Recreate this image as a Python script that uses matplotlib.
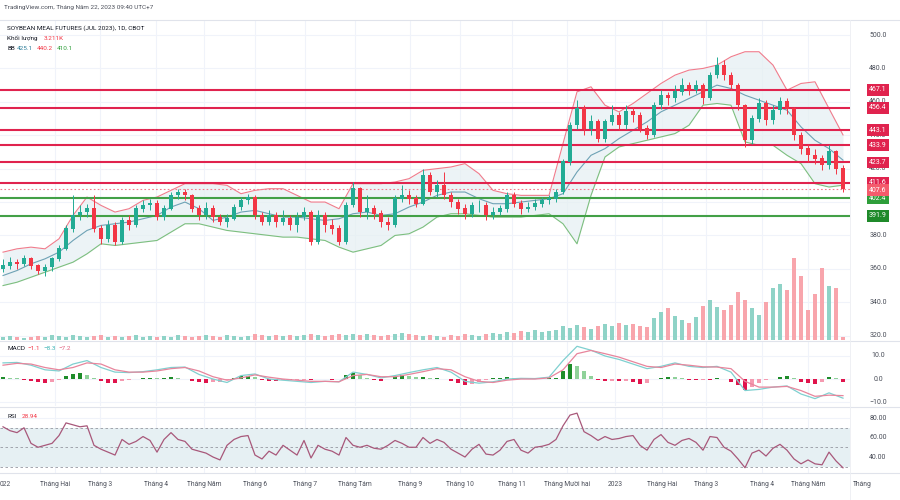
import numpy as np
import matplotlib.pyplot as plt

plt.rcParams['font.family'] = ['Roboto', 'DejaVu Sans']

# one candle ~ 2-3 trading days, Jan 2022 .. 22 May 2023
first_open = 360
close = [362, 364, 363, 366, 362, 359, 361, 366, 372, 384,
         392, 394, 396, 384, 378, 386, 376, 389, 386, 396,
         398, 399, 391, 396, 404, 406, 404, 396, 392, 396,
         391, 388, 390, 397, 401, 403, 392, 388, 392, 388,
         390, 386, 391, 394, 376, 392, 386, 384, 376, 398,
         408, 394, 396, 393, 388, 386, 402, 404, 402, 399,
         416, 406, 410, 404, 400, 396, 393, 398, 398, 392,
         394, 396, 404, 399, 396, 397, 399, 401, 402, 406,
         424, 446, 456, 444, 448, 438, 448, 452, 446, 454,
         452, 444, 440, 458, 464, 462, 466, 470, 467, 470,
         462, 476, 482, 476, 470, 458, 437, 450, 459, 449,
         455, 460, 456, 440, 432, 428, 426, 422, 430, 420, 407.6]
high = [366, 367, 366, 368, 367, 363, 363, 367, 374, 386,
        404, 398, 399, 404, 386, 389, 388, 391, 392, 398,
        401, 402, 401, 398, 406, 408, 408, 405, 398, 400,
        398, 393, 393, 399, 403, 405, 404, 394, 395, 394,
        395, 392, 394, 397, 395, 395, 394, 390, 386, 400,
        412, 409, 404, 398, 395, 391, 404, 410, 407, 404,
        420, 418, 413, 418, 406, 402, 399, 400, 401, 400,
        397, 398, 406, 406, 401, 400, 402, 403, 404, 408,
        426, 448, 461, 458, 452, 450, 450, 458, 454, 458,
        457, 454, 446, 460, 467, 466, 470, 474, 472, 473,
        471, 478, 487, 485, 478, 471, 459, 452, 462, 461,
        458, 463, 462, 457, 442, 435, 432, 428, 434, 431, 422]
low = [358, 360, 360, 362, 360, 357, 356, 359, 365, 371,
       382, 389, 391, 382, 375, 376, 374, 375, 383, 385,
       394, 395, 389, 389, 395, 402, 401, 394, 389, 390,
       388, 386, 385, 389, 395, 399, 390, 386, 386, 385,
       386, 383, 382, 389, 374, 375, 382, 381, 374, 375,
       397, 391, 390, 390, 385, 383, 385, 400, 399, 397,
       398, 404, 403, 402, 397, 393, 390, 391, 394, 389,
       390, 392, 394, 397, 393, 394, 395, 397, 399, 400,
       405, 422, 444, 440, 440, 436, 436, 446, 443, 444,
       448, 442, 438, 439, 456, 458, 460, 464, 464, 465,
       459, 461, 474, 473, 467, 455, 433, 435, 448, 446,
       447, 453, 453, 437, 429, 424, 423, 419, 420, 417, 406]
volume = [3, 4, 3, 2, 3, 4, 3, 5, 4, 3, 5, 4, 3, 4, 5, 3, 4, 3, 4, 5,
          3, 4, 3, 4, 3, 5, 4, 3, 4, 5, 4, 3, 5, 4, 3, 4, 6, 5, 4, 5,
          4, 5, 4, 5, 6, 5, 4, 5, 6, 5, 6, 5, 6, 5, 4, 5, 6, 7, 6, 5,
          4, 5, 4, 3, 5, 4, 6, 5, 4, 6, 7, 6, 8, 7, 9, 8, 10, 8, 9, 10,
          14, 12, 15, 13, 11, 14, 16, 14, 17, 15, 16, 14, 13, 22, 28, 32, 24, 20, 17, 23,
          34, 40, 33, 30, 35, 48, 40, 32, 25, 38, 52, 56, 50, 82, 64, 30, 46, 72, 54, 52, 3]
macd_hist = [0.8, 0.6, 0.4, -0.3, -0.9, -1.5, -1.7, -1.2, -0.5, 1.2,
             2.2, 2.6, 1.8, 0.4, -1.0, -1.6, -1.7, -1.0, -0.4, 0.2,
             0.3, 0.5, 0.4, 0.6, 0.9, 0.6, 0.2, -0.8, -1.4, -1.6,
             -1.3, -1.2, -0.6, 0.6, 1.2, 1.5, 0.8, -0.3, -0.8, -1.0,
             -0.6, -0.6, -0.4, -0.3, -0.6, 0.2, 0.1, -0.3, -0.2, 1.8,
             2.6, 1.8, 0.6, -0.6, -0.7, -0.2, 1.0, 1.6, 1.2, 0.8,
             1.0, 0.6, 0.6, -0.2, -1.0, -1.8, -2.4, -2.0, -1.2, -0.6,
             0.3, 0.4, 0.8, 0.4, 0.3, 0.1, 0.2, 0.2, 0.3, 0.6,
             3.5, 6.5, 5.5, 3.5, 1.5, -0.6, -1.0, -0.8, -1.0, -0.8,
             -1.2, -2.0, -1.8, -0.2, 0.6, 1.0, 0.8, 0.5, -0.3, -0.5,
             -0.3, -0.6, 0.3, 0.2, -1.2, -2.8, -4.8, -3.5, -1.6, -0.4,
             0.2, 1.0, 1.5, 0.6, -1.2, -1.8, -2.0, -1.4, 0.8, 0.6, -1.1]
rsi = [71, 67, 65, 70, 54, 50, 52, 54, 62, 75, 73, 71, 72, 52, 48, 45, 42, 58, 53, 56,
       61, 57, 45, 58, 65, 58, 56, 48, 46, 44, 40, 37, 52, 58, 61, 62, 42, 38, 46, 42,
       52, 47, 42, 57, 39, 52, 48, 46, 42, 60, 52, 50, 52, 49, 48, 52, 57, 54, 50, 50,
       60, 54, 58, 55, 48, 44, 40, 48, 53, 43, 42, 47, 56, 58, 47, 44, 50, 51, 53, 58,
       72, 83, 85, 66, 62, 57, 61, 58, 59, 61, 62, 52, 47, 58, 63, 55, 52, 57, 59, 55,
       47, 61, 60, 50, 46, 38, 29, 44, 47, 41, 49, 53, 47, 38, 33, 37, 33, 32, 45, 36, 28.94]

# bands and MACD lines, read every second candle
bb_upper = [370, 372, 373, 372, 378, 392, 403, 398, 394, 396, 401, 403, 407, 411, 411, 411,
            410, 405, 407, 408, 408, 404, 400, 400, 396, 411, 411, 411, 412, 414, 419, 420,
            421, 423, 417, 407, 405, 404, 404, 404, 435, 466, 469, 458, 454, 459, 465, 471,
            476, 479, 480, 482, 487, 490, 490, 482, 467, 471, 472, 456, 440.2]
bb_mid = [356, 359, 363, 366, 370, 377, 383, 386, 387, 388, 390, 392, 397, 400, 396, 389,
          391, 394, 395, 393, 391, 391, 390, 389, 390, 393, 394, 392, 393, 397, 400, 404,
          406, 406, 402, 399, 399, 400, 401, 402, 405, 418, 428, 432, 438, 443, 448, 454,
          458, 462, 466, 470, 468, 464, 461, 458, 455, 445, 437, 432, 425.1]
bb_lower = [350, 352, 355, 358, 361, 364, 369, 375, 374, 375, 376, 377, 382, 387, 387, 385,
            383, 382, 381, 380, 379, 379, 378, 377, 373, 370, 372, 374, 380, 381, 385, 391,
            393, 393, 392, 391, 391, 391, 392, 393, 387, 375, 404, 427, 433, 435, 437, 439,
            441, 446, 458, 459, 458, 436, 434, 434, 428, 423, 411, 409, 410.1]
macd_line = [7.0, 7.2, 6.0, 4.0, 3.5, 6.5, 8.0, 5.0, 3.0, 2.8, 3.2, 4.0, 5.0, 5.2, 2.0, 0.0,
             -1.5, 1.5, 2.2, 0.0, -0.5, -1.0, -1.5, -1.0, -1.2, 3.0, 2.0, 0.5, 1.5, 2.8, 4.0,
             5.0, 3.0, -1.0, -1.8, -1.2, 0.0, 0.3, 0.2, 0.8, 8.0, 14.2, 12.5, 10.0, 8.5, 6.5,
             4.5, 5.5, 7.0, 5.5, 5.0, 5.5, 3.0, -5.0, -4.5, -3.5, -3.0, -6.5, -8.5, -6.0, -8.3]
macd_signal = [6.0, 6.8, 6.5, 5.0, 4.0, 5.0, 7.0, 6.5, 4.0, 3.0, 3.0, 3.5, 4.5, 5.0, 3.5, 1.0,
               -0.5, 0.5, 1.8, 0.8, 0.0, -0.5, -1.0, -1.0, -1.2, 1.5, 2.0, 1.0, 1.0, 2.0, 3.2,
               4.5, 4.0, 1.0, -1.0, -1.5, -0.5, 0.0, 0.0, 0.5, 4.0, 11.0, 12.4, 11.0, 9.5, 7.5,
               5.5, 5.0, 6.5, 6.0, 5.3, 5.2, 4.5, -1.0, -3.5, -3.5, -3.2, -5.0, -7.5, -7.0, -7.2]

levels_red = [467.1, 456.4, 443.1, 433.9, 423.7, 411.6]
levels_green = [402.4, 391.9]
last_price = 407.6

month_labels = ['Tháng Hai', 'Tháng 3', 'Tháng 4', 'Tháng Năm', 'Tháng 6', 'Tháng 7',
                'Tháng Tám', 'Tháng 9', 'Tháng 10', 'Tháng 11', 'Tháng Mười hai', '2023',
                'Tháng Hai', 'Tháng 3', 'Tháng 4', 'Tháng Năm', 'Tháng']
month_pos = [7.4, 13.9, 21.9, 28.7, 36.0, 43.1, 50.3, 58.1, 65.3, 72.7, 80.6, 87.4,
             94.1, 100.4, 108.4, 115.0, 122.7]

UP = '#22ab94'
DOWN = '#f23645'
GRID = '#f0f3fa'
TXT = '#4a4e59'

n = len(close)
x = np.arange(n)
xb = np.arange(0, n, 2)
c = np.array(close, dtype=float)
o = np.concatenate([[first_open], c[:-1]])
up = c >= o
col = np.where(up, UP, DOWN)

fig = plt.figure(figsize=(9, 5), dpi=100)
W = 850 / 900
ax = fig.add_axes([0, 0.32, W, 0.64])
axv = ax.twinx()
am = fig.add_axes([0, 0.188, W, 0.13], sharex=ax)
ar = fig.add_axes([0, 0.054, W, 0.132], sharex=ax)

for a in (ax, axv, am, ar):
    for s in a.spines.values():
        s.set_visible(False)
    a.tick_params(left=False, right=False, bottom=False, labelleft=False,
                  labelright=False, labelbottom=False)
ax.set_zorder(2)
ax.patch.set_visible(False)
axv.set_zorder(1)

ax.set_xlim(-0.43, 121)
ax.set_ylim(317.4, 509)
axv.set_ylim(0, 320)
am.set_ylim(-11.7, 16.5)
ar.set_ylim(23.6, 91.3)

# grid
for a in (axv, am, ar):
    for p in month_pos:
        a.axvline(p, color=GRID, lw=0.8, zorder=0)
for v in range(320, 501, 20):
    axv.axhline((v - 317.4) / (509 - 317.4) * 320, color=GRID, lw=0.8, zorder=0)
for v in (-10, 0, 10):
    am.axhline(v, color=GRID, lw=0.8, zorder=0)
for v in (40, 60, 80):
    ar.axhline(v, color=GRID, lw=0.8, zorder=0)

# volume
vcol = np.where(up, '#8fd3c7', '#f8a5ac')
axv.bar(x, volume, width=0.7, color=vcol, zorder=2)

# bollinger bands
ax.fill_between(xb, bb_lower, bb_upper, color='#e6f0f3', alpha=0.75, lw=0, zorder=1)
ax.plot(xb, bb_upper, color='#f07c8c', lw=0.8, zorder=2)
ax.plot(xb, bb_mid, color='#6ea2b5', lw=0.8, zorder=2)
ax.plot(xb, bb_lower, color='#7dbf7f', lw=0.8, zorder=2)

# levels
for v in levels_red:
    ax.axhline(v, color='#e0234e', lw=1.5, zorder=3)
for v in levels_green:
    ax.axhline(v, color='#43a047', lw=1.5, zorder=3)
ax.axhline(last_price, color='#f07c8c', lw=0.8, ls=(0, (1.5, 2)), zorder=3)

# candles
ax.vlines(x, low, high, color=col, lw=0.7, zorder=4)
ax.bar(x, np.abs(c - o) + 0.3, bottom=np.minimum(o, c), width=0.5, color=col, zorder=5)

# price scale
trans = ax.get_yaxis_transform()
for v in range(320, 501, 20):
    ax.text(878 / 850, v, f'{v:.1f}', transform=trans, ha='center', va='center',
            fontsize=5, color=TXT, clip_on=False, zorder=1)
for v in levels_red:
    ax.text(878 / 850, v, f'{v:.1f}', transform=trans, ha='center', va='center',
            fontsize=5, color='white', clip_on=False, zorder=6,
            bbox=dict(boxstyle='square,pad=0.35', fc='#e0234e', ec='none'))
ax.text(878 / 850, last_price - 0.6, f'{last_price:.1f}', transform=trans, ha='center',
        va='center', fontsize=5, color='white', clip_on=False, zorder=7,
        bbox=dict(boxstyle='square,pad=0.35', fc='#f45b6c', ec='none'))
for v, fc in zip(levels_green, ['#2e9e3a', '#1f8a2a']):
    ax.text(878 / 850, v, f'{v:.1f}', transform=trans, ha='center', va='center',
            fontsize=5, color='white', clip_on=False, zorder=6,
            bbox=dict(boxstyle='square,pad=0.35', fc=fc, ec='none'))

# MACD
hcol = []
for k, h in enumerate(macd_hist):
    prev = macd_hist[k - 1] if k else 0
    if h >= 0:
        hcol.append('#1e8c2a' if h >= prev else '#8fd19a')
    else:
        hcol.append('#e0144c' if h <= prev else '#f59ab0')
am.bar(x, macd_hist, width=0.6, color=hcol, zorder=2)
am.plot(xb, macd_line, color='#7fd0d0', lw=0.9, zorder=3)
am.plot(xb, macd_signal, color='#e8859c', lw=0.9, zorder=3)
mtrans = am.get_yaxis_transform()
for v, s in [(10, '10.0'), (0, '0.0'), (-10, '\u221210.0')]:
    am.text(878 / 850, v, s, transform=mtrans, ha='center', va='center',
            fontsize=5, color=TXT, clip_on=False)

# RSI
ar.axhspan(30, 70, color='#e6f0f3', lw=0, zorder=1)
for v in (70, 50, 30):
    ar.axhline(v, color='#9598a1', lw=0.6, ls=(0, (3, 3)), zorder=2)
ar.plot(x, rsi, color='#a8587a', lw=0.9, zorder=3)
rtrans = ar.get_yaxis_transform()
for v in (80, 60, 40):
    ar.text(878 / 850, v, f'{v:.2f}', transform=rtrans, ha='center', va='center',
            fontsize=5, color=TXT, clip_on=False)

# time axis
tx = ar.get_xaxis_transform()
for p, lab in zip(month_pos, month_labels):
    ar.text(p, -0.18, lab, transform=tx, ha='center', va='center', fontsize=4.8,
            color=TXT, clip_on=False)
ar.text(-0.43, -0.18, '022', transform=tx, ha='left', va='center', fontsize=4.8,
        color=TXT, clip_on=False)

# separators
for yy in (1 - 20 / 500, 1 - 341 / 500, 1 - 407 / 500, 1 - 473 / 500):
    fig.add_artist(plt.Line2D([0, 1], [yy, yy], color='#e0e3eb', lw=0.8))
fig.add_artist(plt.Line2D([W, W], [0, 1 - 20 / 500], color='#eceef3', lw=0.6))


# legends
def px(xp, yp):
    return xp / 900, 1 - yp / 500


fig.text(*px(4, 8), 'TradingView.com, Tháng Năm 22, 2023 09:40 UTC+7', fontsize=4.6,
         color=TXT, va='center')
fig.text(*px(7, 28), 'SOYBEAN MEAL FUTURES (JUL 2023), 1D, CBOT', fontsize=4.6,
         color='#131722', va='center')
fig.text(*px(7, 38), 'Khối lượng', fontsize=4.6, color='#131722', va='center')
fig.text(*px(44, 38), '3.211K', fontsize=4.6, color=DOWN, va='center')
fig.text(*px(7, 48), 'BB', fontsize=4.6, color='#131722', va='center')
fig.text(*px(17, 48), '425.1', fontsize=4.6, color='#2f7f9a', va='center')
fig.text(*px(37, 48), '440.2', fontsize=4.6, color=DOWN, va='center')
fig.text(*px(57, 48), '410.1', fontsize=4.6, color='#2e9e3a', va='center')
fig.text(*px(7, 348), 'MACD', fontsize=4.6, color='#131722', va='center')
fig.text(*px(27, 348), '\u22121.1', fontsize=4.6, color=DOWN, va='center')
fig.text(*px(43, 348), '\u22128.3', fontsize=4.6, color='#3fb5b5', va='center')
fig.text(*px(58, 348), '\u22127.2', fontsize=4.6, color='#e0607e', va='center')
fig.text(*px(7, 416), 'RSI', fontsize=4.6, color='#131722', va='center')
fig.text(*px(22, 416), '28.94', fontsize=4.6, color=DOWN, va='center')

fig.savefig('out.png', dpi=100, facecolor='white')
